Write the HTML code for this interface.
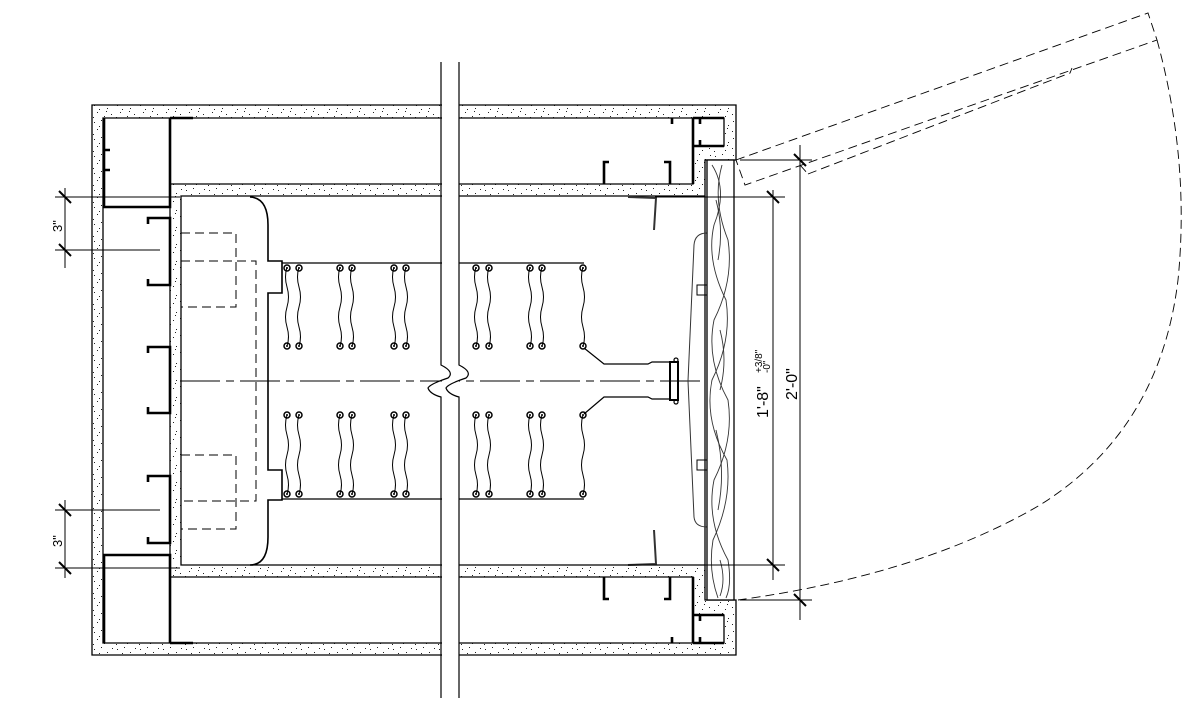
<!DOCTYPE html>
<html><head><meta charset="utf-8"><style>
html,body{margin:0;padding:0;background:#fff;}
svg{display:block;}
text{font-family:"Liberation Sans",sans-serif;}
</style></head><body>
<svg width="1192" height="708" viewBox="0 0 1192 708" xmlns="http://www.w3.org/2000/svg">
<defs>
<pattern id="st" width="23" height="17" patternUnits="userSpaceOnUse">
<rect width="23" height="17" fill="#fff"/>
<g fill="#222">
<rect x="2" y="3" width="1" height="1"/><rect x="9" y="1" width="1" height="1"/><rect x="15" y="6" width="1" height="1"/>
<rect x="5" y="10" width="1" height="1"/><rect x="19" y="12" width="1" height="1"/><rect x="12" y="14" width="1" height="1"/>
<rect x="20" y="2" width="1" height="1"/><rect x="7" y="7" width="1" height="1"/><rect x="1" y="15" width="1" height="1"/>
<rect x="14" y="9" width="1" height="1"/>
</g>
</pattern>
<g id="knot"><circle r="3" fill="none" stroke="#000" stroke-width="1.5"/><circle r="1" fill="#000"/></g>
<path id="wave" d="M0,0 q-3,10 0,20 q3,10 0,20 q-3,10 0,20 q3,10 0,19" fill="none" stroke="#000" stroke-width="1"/>
</defs>

<path fill="url(#st)" stroke="#000" stroke-width="1.3" fill-rule="evenodd"
d="M92,105 H736 V160 H705 V600 H736 V655 H92 Z
M103,118 H724 V146 H693 V184 H170 V577 H693 V615 H724 V643 H103 Z
M181,196 H705 V565 H181 Z"/>

<g fill="none" stroke="#000" stroke-width="2.6">
<path d="M104,118 V207 H170 V118 M170,118 H193"/>
<path d="M104,643 V555 H170 V643 M170,643 H193"/>
<path d="M148,224 V218 H170 V285 H148 V279"/>
<path d="M148,353 V347 H170 V413 H148 V407"/>
<path d="M148,482 V476 H170 V543 H148 V537"/>
<path d="M104,170 h6 M104,150 h6"/>
<path d="M693,118 V184"/>
<path d="M693,577 V643"/>
<path d="M693,118 H724 M693,146 H724 M700,118 v6 M700,140 v6"/>
<path d="M693,615 H724 M693,643 H724 M700,615 v6 M700,637 v6"/>
<path d="M609,162 H604 V184 M664,162 H670 V184 M672,118 V124"/>
<path d="M609,599 H604 V577 M664,599 H670 V577 M672,643 V637"/>
</g>

<g fill="none" stroke="#000" stroke-width="1" stroke-dasharray="9,5">
<rect x="181" y="233" width="55" height="74"/>
<path d="M181,261 H256 V501 H181"/>
<rect x="181" y="455" width="55" height="74"/>
<path d="M180,381 H700" stroke-dasharray="40,6,8,6"/>
</g>
<path d="M250,197 Q268,198 268,225 V261 H282 V293 H268 V470 H282 V500 H268 V537 Q268,565 250,565" fill="none" stroke="#000" stroke-width="1.6"/>
<path d="M282,263 H584 M282,499 H584" stroke="#000" stroke-width="1.2" fill="none"/>

<g>
<g transform="translate(287,267)"><use href="#wave"/></g><g transform="translate(299,267)"><use href="#wave"/></g>
<g transform="translate(340,267)"><use href="#wave"/></g><g transform="translate(352,267)"><use href="#wave"/></g>
<g transform="translate(394,267)"><use href="#wave"/></g><g transform="translate(406,267)"><use href="#wave"/></g>
<g transform="translate(476,267)"><use href="#wave"/></g><g transform="translate(489,267)"><use href="#wave"/></g>
<g transform="translate(530,267)"><use href="#wave"/></g><g transform="translate(542,267)"><use href="#wave"/></g>
<g transform="translate(583,267)"><use href="#wave"/></g>
<g transform="translate(287,415)"><use href="#wave"/></g><g transform="translate(299,415)"><use href="#wave"/></g>
<g transform="translate(340,415)"><use href="#wave"/></g><g transform="translate(352,415)"><use href="#wave"/></g>
<g transform="translate(394,415)"><use href="#wave"/></g><g transform="translate(406,415)"><use href="#wave"/></g>
<g transform="translate(476,415)"><use href="#wave"/></g><g transform="translate(489,415)"><use href="#wave"/></g>
<g transform="translate(530,415)"><use href="#wave"/></g><g transform="translate(542,415)"><use href="#wave"/></g>
<g transform="translate(583,415)"><use href="#wave"/></g>
</g>
<g>
<use href="#knot" x="287" y="268"/><use href="#knot" x="299" y="268"/><use href="#knot" x="340" y="268"/><use href="#knot" x="352" y="268"/><use href="#knot" x="394" y="268"/><use href="#knot" x="406" y="268"/><use href="#knot" x="476" y="268"/><use href="#knot" x="489" y="268"/><use href="#knot" x="530" y="268"/><use href="#knot" x="542" y="268"/><use href="#knot" x="583" y="268"/>
<use href="#knot" x="287" y="346"/><use href="#knot" x="299" y="346"/><use href="#knot" x="340" y="346"/><use href="#knot" x="352" y="346"/><use href="#knot" x="394" y="346"/><use href="#knot" x="406" y="346"/><use href="#knot" x="476" y="346"/><use href="#knot" x="489" y="346"/><use href="#knot" x="530" y="346"/><use href="#knot" x="542" y="346"/><use href="#knot" x="583" y="346"/>
<use href="#knot" x="287" y="415"/><use href="#knot" x="299" y="415"/><use href="#knot" x="340" y="415"/><use href="#knot" x="352" y="415"/><use href="#knot" x="394" y="415"/><use href="#knot" x="406" y="415"/><use href="#knot" x="476" y="415"/><use href="#knot" x="489" y="415"/><use href="#knot" x="530" y="415"/><use href="#knot" x="542" y="415"/><use href="#knot" x="583" y="415"/>
<use href="#knot" x="287" y="494"/><use href="#knot" x="299" y="494"/><use href="#knot" x="340" y="494"/><use href="#knot" x="352" y="494"/><use href="#knot" x="394" y="494"/><use href="#knot" x="406" y="494"/><use href="#knot" x="476" y="494"/><use href="#knot" x="489" y="494"/><use href="#knot" x="530" y="494"/><use href="#knot" x="542" y="494"/><use href="#knot" x="583" y="494"/>
</g>
<g fill="none" stroke="#000" stroke-width="1.2">
<path d="M584,348 L604,364 H648 L652,362 H670"/>
<path d="M584,414 L604,397 H648 L652,399 H670"/>
<rect x="670" y="362" width="8" height="38" stroke-width="2"/>
<circle cx="676" cy="360" r="2"/><circle cx="676" cy="402" r="2"/>
</g>
<path d="M628,197 L656,198 L654,230" stroke="#333" stroke-width="2" fill="none"/>
<path d="M628,565 L656,564 L654,530" stroke="#333" stroke-width="2" fill="none"/>

<path d="M707,233 Q695,233 694,245 L688,381 L694,517 Q695,527 707,527" fill="none" stroke="#333" stroke-width="1"/>
<path d="M707,285 h-10 v10 h10 M707,460 h-10 v10 h10" fill="none" stroke="#000" stroke-width="1"/>
<rect x="707" y="160" width="27" height="440" fill="#fff" stroke="#000" stroke-width="1.3"/>
<g fill="none" stroke="#333" stroke-width="0.9">
<path d="M712,165 Q728,190 714,225 Q706,260 726,300 Q732,340 712,380 Q704,420 727,460 Q732,500 713,540 Q708,570 718,598"/>
<path d="M722,165 Q712,200 728,240 Q734,280 714,320 Q706,360 728,400 Q734,440 714,480 Q706,520 728,560 Q732,585 726,598"/>
<path d="M716,200 Q724,230 718,260 M720,330 Q728,360 720,390 M716,430 Q726,470 718,510 M720,560 Q726,580 720,596"/>
</g>

<rect x="442" y="60" width="17" height="640" fill="#fff"/>
<path d="M441,62 V365 Q455,372 448,378 Q430,384 428,388 Q430,394 441,397 V698" fill="none" stroke="#000" stroke-width="1.2"/>
<path d="M459,62 V365 Q473,372 466,378 Q448,384 446,388 Q448,394 459,397 V698" fill="none" stroke="#000" stroke-width="1.2"/>

<g fill="none" stroke="#000" stroke-width="0.9" stroke-dasharray="9,5">
<path d="M736,160 L1148,13 L1157,40 L745,185 Z"/>
<path d="M808,174 L1070,73 L1072,68"/>
<path d="M800,165 L808,174"/>
<path d="M1157,40 Q1190,160 1178,280 Q1160,430 1040,505 Q920,575 738,600"/>
</g>

<g stroke="#000" stroke-width="1" fill="none">
<path d="M773,190 V580 M800,145 V620"/>
<path d="M655,197 H785 M620,565 H785 M740,160 H812 M740,600 H812"/>
<path d="M767,191 L779,203 M767,559 L779,571 M794,154 L806,166 M794,594 L806,606" stroke-width="2"/>
<path d="M65,188 V268 M65,500 V578"/>
<path d="M55,197 H180 M55,250 H160 M55,510 H160 M55,568 H180"/>
<path d="M59,191 L71,203 M59,244 L71,256 M59,504 L71,516 M59,562 L71,574" stroke-width="2"/>
</g>
<g fill="#000">
<text transform="translate(768,418) rotate(-90)" font-size="16">1'-8"</text>
<text transform="translate(762,373) rotate(-90)" font-size="10">+3/8"</text>
<text transform="translate(770,373) rotate(-90)" font-size="10">-0"</text>
<text transform="translate(797,400) rotate(-90)" font-size="16">2'-0"</text>
<text transform="translate(62,232) rotate(-90)" font-size="13">3"</text>
<text transform="translate(62,547) rotate(-90)" font-size="13">3"</text>
</g>
</svg>
</body></html>
